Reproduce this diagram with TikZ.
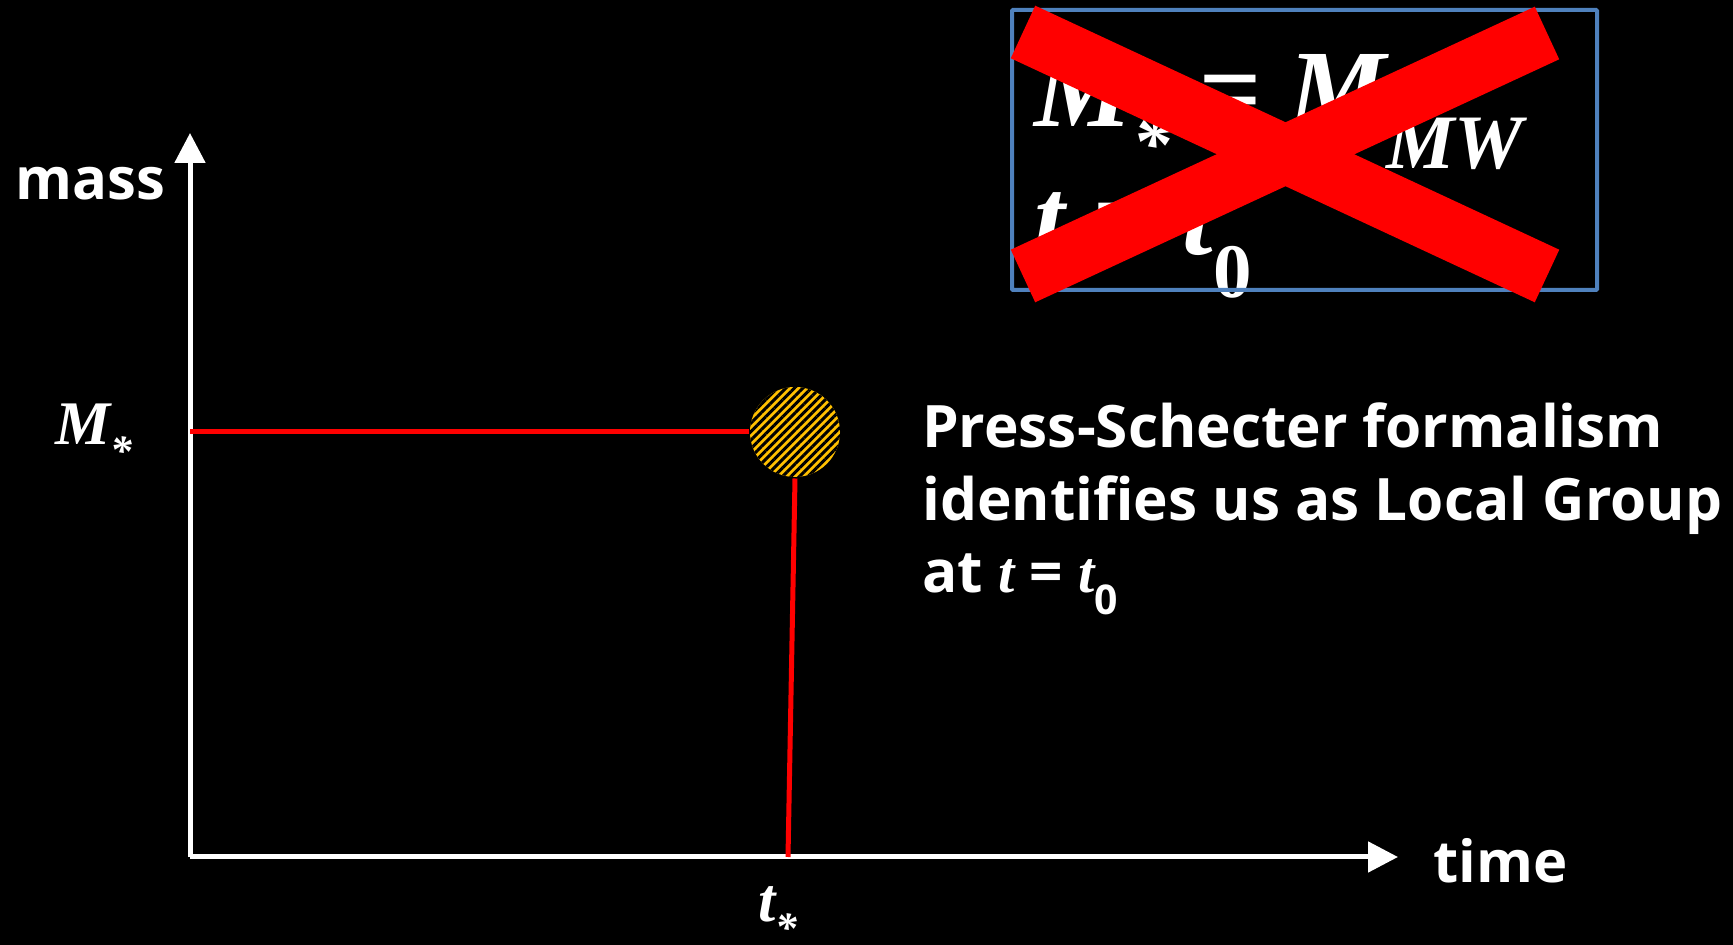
\documentclass[tikz,border=0pt]{standalone}
\usepackage{fontspec}
\setmainfont{Open Sans}
\newfontfamily\eqfont{Liberation Serif}
\usepackage{tikz}
\usetikzlibrary{arrows.meta,patterns.meta}
\definecolor{trackred}{HTML}{FF0000}
\definecolor{halogold}{HTML}{FFC000}
\definecolor{frameblue}{HTML}{4F81BD}
\newcommand{\starsub}{\textsubscript{\raisebox{-.3em}{*}}}

\begin{document}
\begin{tikzpicture}[
  x=1pt,
  y=1pt,
  axisline/.style={
    line width=5pt,draw=white,-{Triangle[length=30pt,width=30pt]}
  },
  track/.style={line width=5pt,draw=trackred},
  halo/.style={
    circle,minimum size=90pt,inner sep=0pt,preaction={fill=halogold},
    pattern={Lines[angle=45,distance=6pt,line width=3pt]},pattern color=black
  },
  axislabel/.style={
    text=white,inner sep=0pt,anchor=base west,font=\fontsize{58}{70}\selectfont\bfseries
  },
  sym/.style={
    text=white,inner sep=0pt,anchor=base west,
    font=\eqfont\bfseries\itshape\fontsize{62}{70}\selectfont
  },
  note/.style={
    text=white,inner sep=0pt,anchor=base west,align=left,
    font=\fontsize{58.5}{72.5}\selectfont\bfseries
  },
  frame/.style={draw=frameblue,line width=4pt,rounded corners=1pt},
  cross/.style={draw=trackred,line width=58pt}
]
  \useasboundingbox (0,0) rectangle (1733,945);
  \fill[black] (0,0) rectangle (1733,945);

  % axes
  \coordinate (origin) at (190,88);
  \coordinate (ytip) at (190,812);
  \coordinate (xtip) at (1398,88);
  \draw[axisline] (origin) -- (ytip);
  \draw[axisline] (origin) -- (xtip);
  \node[axislabel] (mass) at (15,745) {mass};
  \node[axislabel] (time) at (1433,62) {time};

  % halo track
  \node[halo] (halo) at (795,513) {};
  \coordinate (mstar) at (190,513);
  \coordinate (tstar) at (788,88);
  \draw[track] (mstar) -- (halo.west);
  \draw[track] (halo.south) -- (tstar);
  \node[sym] (mlabel) at (55,500) {M\starsub};
  \node[sym] (tlabel) at (758,23) {t\starsub};

  \node[note] (ps) at (922,352) {Press-Schecter formalism\\
    identifies us as Local Group\\
    at {\eqfont\bfseries\itshape t} = {\eqfont\bfseries\itshape t}\textsubscript{0}};

  % crossed-out condition
  \node[sym,font=\eqfont\bfseries\itshape\fontsize{110}{128}\selectfont,align=left]
    (cond) at (1034,690) {M\starsub{} = M\textsubscript{MW}\\ t = t\textsubscript{\upshape 0}};
  \draw[frame] (1012,655) rectangle (1597,935);
  \draw[cross] (1023,913) -- (1547,669);
  \draw[cross] (1547,912) -- (1023,669);
\end{tikzpicture}
\end{document}
